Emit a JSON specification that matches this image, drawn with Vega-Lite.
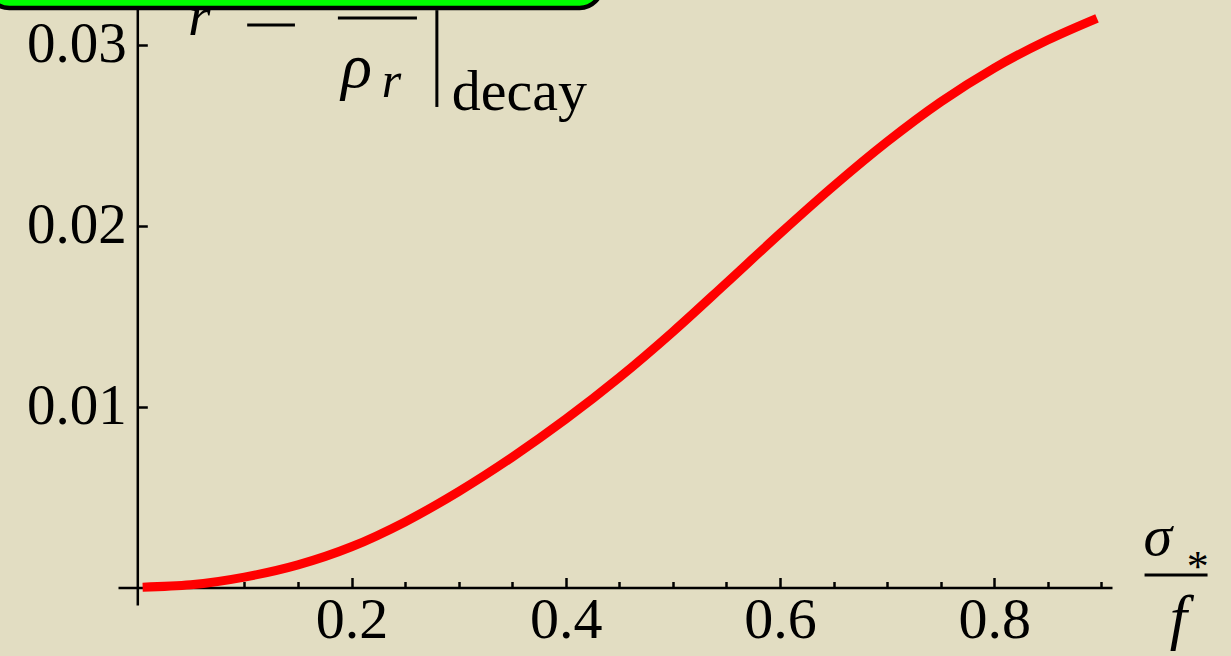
{
  "$schema": "https://vega.github.io/schema/vega-lite/v6.json",
  "width": 994,
  "height": 605,
  "autosize": {"type": "none"},
  "padding": {"left": 118, "top": 0, "right": 119, "bottom": 51},
  "background": "#e2ddc2",
  "config": {"view": {"stroke": null}},
  "data": {"values": [
    {"x": 0.005, "y": 0.00002},
    {"x": 0.05, "y": 0.00015},
    {"x": 0.1, "y": 0.000575},
    {"x": 0.15, "y": 0.00125},
    {"x": 0.2, "y": 0.00225},
    {"x": 0.25, "y": 0.003625},
    {"x": 0.3, "y": 0.0053},
    {"x": 0.35, "y": 0.0072},
    {"x": 0.4, "y": 0.0093},
    {"x": 0.45, "y": 0.0116},
    {"x": 0.5, "y": 0.014125},
    {"x": 0.55, "y": 0.016825},
    {"x": 0.6, "y": 0.01955},
    {"x": 0.65, "y": 0.022175},
    {"x": 0.7, "y": 0.024625},
    {"x": 0.75, "y": 0.026825},
    {"x": 0.8, "y": 0.0287},
    {"x": 0.85, "y": 0.03025},
    {"x": 0.896, "y": 0.03145}
  ]},
  "layer": [
    {
      "mark": {"type": "line", "color": "#ff0000", "strokeWidth": 9, "strokeCap": "butt", "interpolate": "monotone"},
      "encoding": {
        "x": {"field": "x", "type": "quantitative",
          "scale": {"domain": [-0.018, 0.91], "nice": false, "zero": false},
          "axis": {
            "orient": "bottom", "offset": -17.5, "title": null, "grid": false,
            "values": [0.05, 0.1, 0.15, 0.2, 0.25, 0.3, 0.35, 0.4, 0.45, 0.5, 0.55, 0.6, 0.65, 0.7, 0.75, 0.8, 0.85, 0.9],
            "domainColor": "black", "domainWidth": 2.5, "tickColor": "black", "tickWidth": 2.5,
            "tickSize": {"condition": {"test": "abs(datum.value*5-round(datum.value*5))<0.001", "value": -10}, "value": -6},
            "labelExpr": "abs(datum.value*5-round(datum.value*5))<0.001 ? format(datum.value,'.1f') : ''",
            "labelFont": "Liberation Serif", "labelFontSize": 58, "labelColor": "black",
            "labelPadding": 14, "labelOverlap": false, "labelFlush": false, "labelBaseline": "top"
          }},
        "y": {"field": "y", "type": "quantitative",
          "scale": {"domain": [-0.000967, 0.03246], "nice": false, "zero": false},
          "axis": {
            "orient": "left", "offset": -19.3, "title": null, "grid": false,
            "values": [0.01, 0.02, 0.03], "format": ".2f",
            "domainColor": "black", "domainWidth": 2.5, "tickColor": "black", "tickWidth": 2.5, "tickSize": -10,
            "labelFont": "Liberation Serif", "labelFontSize": 57, "labelColor": "black",
            "labelPadding": 21, "labelOverlap": false, "labelFlush": false
          }}
      }
    },
    {
      "data": {"values": [{}]},
      "mark": {"type": "text", "text": "r", "font": "Liberation Serif", "fontStyle": "italic", "fontSize": 58, "align": "left", "baseline": "alphabetic", "color": "black"},
      "encoding": {"x": {"datum": 0.0473, "type": "quantitative"}, "y": {"datum": 0.03052, "type": "quantitative"}}
    },
    {
      "data": {"values": [{}]},
      "mark": {"type": "rule", "color": "black", "strokeWidth": 3},
      "encoding": {"x": {"datum": 0.1026, "type": "quantitative"}, "x2": {"datum": 0.1472}, "y": {"datum": 0.03108, "type": "quantitative"}}
    },
    {
      "data": {"values": [{}]},
      "mark": {"type": "rule", "color": "black", "strokeWidth": 3},
      "encoding": {"x": {"datum": 0.1873, "type": "quantitative"}, "x2": {"datum": 0.2611}, "y": {"datum": 0.03146, "type": "quantitative"}}
    },
    {
      "data": {"values": [{}]},
      "mark": {"type": "text", "text": "ρ", "font": "Liberation Serif", "fontStyle": "italic", "fontSize": 64, "align": "left", "baseline": "alphabetic", "color": "black"},
      "encoding": {"x": {"datum": 0.1905, "type": "quantitative"}, "y": {"datum": 0.02765, "type": "quantitative"}}
    },
    {
      "data": {"values": [{}]},
      "mark": {"type": "text", "text": "r", "font": "Liberation Serif", "fontStyle": "italic", "fontSize": 50, "align": "left", "baseline": "alphabetic", "color": "black"},
      "encoding": {"x": {"datum": 0.2283, "type": "quantitative"}, "y": {"datum": 0.0271, "type": "quantitative"}}
    },
    {
      "data": {"values": [{}]},
      "mark": {"type": "rule", "color": "black", "strokeWidth": 3},
      "encoding": {"x": {"datum": 0.2797, "type": "quantitative"}, "y": {"datum": 0.0319, "type": "quantitative"}, "y2": {"datum": 0.02655}}
    },
    {
      "data": {"values": [{}]},
      "mark": {"type": "text", "text": "decay", "font": "Liberation Serif", "fontSize": 58, "align": "left", "baseline": "alphabetic", "color": "black"},
      "encoding": {"x": {"datum": 0.2937, "type": "quantitative"}, "y": {"datum": 0.02638, "type": "quantitative"}}
    },
    {
      "data": {"values": [{}]},
      "mark": {"type": "rect", "fill": "#00ff00", "stroke": "black", "strokeWidth": 4.5, "cornerRadius": 22},
      "encoding": {"x": {"datum": -0.14, "type": "quantitative"}, "x2": {"datum": 0.4336}, "y": {"datum": 0.03202, "type": "quantitative"}, "y2": {"datum": 0.0345}}
    },
    {
      "data": {"values": [{}]},
      "mark": {"type": "text", "text": "σ", "font": "Liberation Serif", "fontStyle": "italic", "fontSize": 58, "align": "left", "baseline": "alphabetic", "color": "black"},
      "encoding": {"x": {"datum": 0.9395, "type": "quantitative"}, "y": {"datum": 0.0018, "type": "quantitative"}}
    },
    {
      "data": {"values": [{}]},
      "mark": {"type": "text", "text": "*", "font": "Liberation Serif", "fontSize": 44, "align": "center", "baseline": "alphabetic", "color": "black"},
      "encoding": {"x": {"datum": 0.9901, "type": "quantitative"}, "y": {"datum": 0.00035, "type": "quantitative"}}
    },
    {
      "data": {"values": [{}]},
      "mark": {"type": "rule", "color": "black", "strokeWidth": 3},
      "encoding": {"x": {"datum": 0.9404, "type": "quantitative"}, "x2": {"datum": 0.9992}, "y": {"datum": 0.00069, "type": "quantitative"}}
    },
    {
      "data": {"values": [{}]},
      "mark": {"type": "text", "text": "f", "font": "Liberation Serif", "fontStyle": "italic", "fontSize": 62, "align": "center", "baseline": "alphabetic", "color": "black"},
      "encoding": {"x": {"datum": 0.9720, "type": "quantitative"}, "y": {"datum": -0.00279, "type": "quantitative"}}
    }
  ]
}
